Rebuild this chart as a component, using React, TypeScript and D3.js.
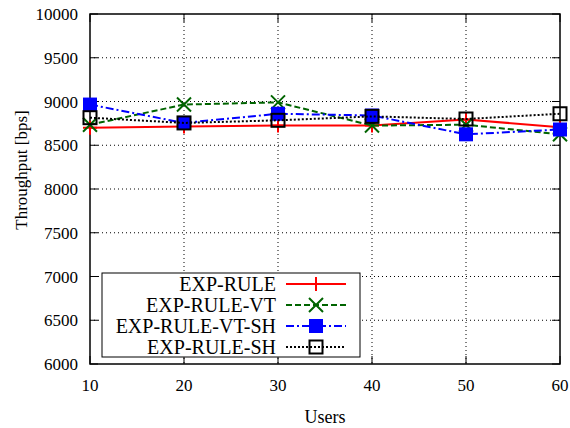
import { useEffect, useRef } from "react";
import * as d3 from "d3";

const users = [10, 20, 30, 40, 50, 60];
const expRule = [8700, 8715, 8725, 8725, 8795, 8705];
const expRuleVt = [8735, 8965, 8990, 8725, 8735, 8625];
const expRuleVtSh = [8965, 8755, 8860, 8840, 8625, 8680];
const expRuleSh = [8815, 8755, 8785, 8830, 8800, 8860];
const yTicks = [6000, 6500, 7000, 7500, 8000, 8500, 9000, 9500, 10000];

const seriesNames = ["EXP-RULE", "EXP-RULE-VT", "EXP-RULE-VT-SH", "EXP-RULE-SH"];
const seriesValues = [expRule, expRuleVt, expRuleVtSh, expRuleSh];
const colors = ["#ff0000", "#006400", "#0000ff", "#000000"];
const dashes = [null, "6,3", "8,3,2,3", "2,2"];

export default function App() {
  const svgRef = useRef<SVGSVGElement>(null);

  useEffect(() => {
    const svg = d3.select(svgRef.current);
    svg.selectAll("*").remove();

    const left = 90, right = 560, top = 14, bottom = 364;
    const x = d3.scaleLinear().domain([10, 60]).range([left, right]);
    const y = d3.scaleLinear().domain([6000, 10000]).range([bottom, top]);
    const font = "'Liberation Serif', 'Times New Roman', serif";

    // grid
    const grid = svg.append("g").attr("stroke", "#000").attr("stroke-width", 1)
      .attr("stroke-dasharray", "1,3");
    grid.selectAll(".gx").data(users.slice(1, -1)).enter().append("line")
      .attr("x1", (d) => x(d)).attr("x2", (d) => x(d)).attr("y1", top).attr("y2", bottom);
    grid.selectAll(".gy").data(yTicks.slice(1, -1)).enter().append("line")
      .attr("x1", left).attr("x2", right).attr("y1", (d) => y(d)).attr("y2", (d) => y(d));

    // ticks (inward, mirrored)
    const tk = svg.append("g").attr("stroke", "#000").attr("stroke-width", 1);
    yTicks.forEach((t) => {
      tk.append("line").attr("x1", left).attr("x2", left + 8).attr("y1", y(t)).attr("y2", y(t));
      tk.append("line").attr("x1", right).attr("x2", right - 8).attr("y1", y(t)).attr("y2", y(t));
    });
    users.forEach((u) => {
      tk.append("line").attr("x1", x(u)).attr("x2", x(u)).attr("y1", bottom).attr("y2", bottom - 8);
      tk.append("line").attr("x1", x(u)).attr("x2", x(u)).attr("y1", top).attr("y2", top + 8);
    });

    // frame
    svg.append("rect").attr("x", left).attr("y", top).attr("width", right - left)
      .attr("height", bottom - top).attr("fill", "none").attr("stroke", "#000").attr("stroke-width", 1.5);

    // tick labels
    svg.selectAll(".yl").data(yTicks).enter().append("text")
      .attr("x", left - 12).attr("y", (d) => y(d) + 6)
      .attr("text-anchor", "end").attr("font-family", font).attr("font-size", 17)
      .text((d) => d);
    svg.selectAll(".xl").data(users).enter().append("text")
      .attr("x", (d) => x(d)).attr("y", bottom + 27)
      .attr("text-anchor", "middle").attr("font-family", font).attr("font-size", 17)
      .text((d) => d);

    // axis titles
    svg.append("text").attr("x", (left + right) / 2).attr("y", 423)
      .attr("text-anchor", "middle").attr("font-family", font).attr("font-size", 18).text("Users");
    svg.append("text").attr("transform", "translate(27,170) rotate(-90)")
      .attr("text-anchor", "middle").attr("font-family", font).attr("font-size", 17)
      .text("Throughput [bps]");

    const drawMarker = (g: any, i: number, cx: number, cy: number) => {
      const c = colors[i];
      if (i === 0) {
        g.append("path").attr("d", `M${cx - 7},${cy}H${cx + 7}M${cx},${cy - 7}V${cy + 7}`)
          .attr("stroke", c).attr("stroke-width", 2);
      } else if (i === 1) {
        g.append("path").attr("d", `M${cx - 7},${cy - 7}L${cx + 7},${cy + 7}M${cx - 7},${cy + 7}L${cx + 7},${cy - 7}`)
          .attr("stroke", c).attr("stroke-width", 2);
      } else if (i === 2) {
        g.append("rect").attr("x", cx - 7).attr("y", cy - 7).attr("width", 14).attr("height", 14).attr("fill", c);
      } else {
        g.append("rect").attr("x", cx - 6.5).attr("y", cy - 6.5).attr("width", 13).attr("height", 13)
          .attr("fill", "none").attr("stroke", c).attr("stroke-width", 2);
      }
    };

    const line = d3.line<number>().x((_, i) => x(users[i])).y((d) => y(d));

    seriesValues.forEach((vals, i) => {
      const g = svg.append("g");
      g.append("path").attr("d", line(vals)).attr("fill", "none").attr("stroke", colors[i])
        .attr("stroke-width", 2).attr("stroke-dasharray", dashes[i]);
      vals.forEach((v, j) => drawMarker(g, i, x(users[j]), y(v)));
    });

    // legend
    const lg = svg.append("g");
    lg.append("rect").attr("x", 102).attr("y", 273).attr("width", 258).attr("height", 84)
      .attr("fill", "#fff").attr("stroke", "#000").attr("stroke-width", 1);
    seriesNames.forEach((name, i) => {
      const ly = 284 + i * 21;
      lg.append("text").attr("x", 276).attr("y", ly + 7).attr("text-anchor", "end")
        .attr("font-family", font).attr("font-size", 20).text(name);
      lg.append("line").attr("x1", 286).attr("x2", 346).attr("y1", ly).attr("y2", ly)
        .attr("stroke", colors[i]).attr("stroke-width", 2).attr("stroke-dasharray", dashes[i]);
      drawMarker(lg, i, 316, ly);
    });
  }, []);

  return (
    <svg ref={svgRef} width={570} height={428}
      style={{ position: "absolute", left: 0, top: 0, background: "#fff" }} />
  );
}
